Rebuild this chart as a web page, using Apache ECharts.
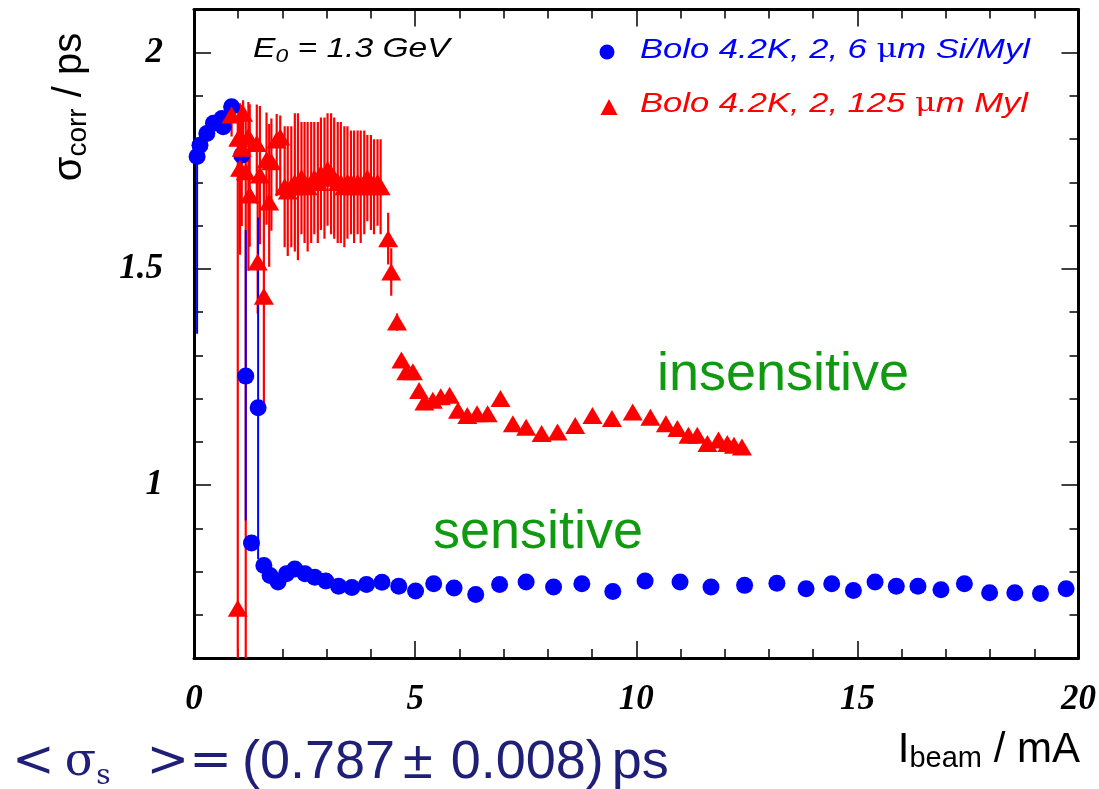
<!DOCTYPE html>
<html><head><meta charset="utf-8">
<script src="https://cdn.jsdelivr.net/npm/echarts@6/dist/echarts.min.js"></script>
<style>html,body{margin:0;padding:0;background:#fff}#c{width:1099px;height:789px}</style>
</head><body><div id="c"></div>
<script>
// ---------------- data ----------------
const xTickValues = [0, 5, 10, 15, 20];
const yTickValues = [1, 1.5, 2];

const blueName = 'Bolo 4.2K, 2, 6 μm Si/Myl';
const redName = 'Bolo 4.2K, 2, 125 μm Myl';

const blueX = [0.07, 0.135, 0.29, 0.44, 0.63, 0.66, 0.85, 1.08, 1.17, 1.30, 1.45, 1.58, 1.72, 1.90, 2.09, 2.28, 2.51, 2.73, 2.98, 3.27, 3.57, 3.90, 4.25, 4.63, 5.01, 5.42, 5.88, 6.37, 6.91, 7.51, 8.13, 8.77, 9.47, 10.20, 10.99, 11.69, 12.45, 13.18, 13.84, 14.42, 14.91, 15.40, 15.88, 16.37, 16.89, 17.42, 17.99, 18.56, 19.14, 19.72];
const blueY = [1.76, 1.786, 1.813, 1.837, 1.848, 1.829, 1.875, 1.763, 1.252, 0.866, 1.179, 0.814, 0.791, 0.776, 0.795, 0.806, 0.795, 0.787, 0.778, 0.766, 0.763, 0.770, 0.775, 0.766, 0.755, 0.772, 0.762, 0.747, 0.770, 0.776, 0.764, 0.772, 0.754, 0.778, 0.776, 0.764, 0.768, 0.773, 0.760, 0.772, 0.756, 0.776, 0.766, 0.766, 0.758, 0.772, 0.751, 0.751, 0.749, 0.760];
const blueErrDown = [0.41, 0, 0, 0, 0, 0, 0, 0, 0.334, 0, 0.35, 0, 0, 0, 0, 0, 0, 0, 0, 0, 0, 0, 0, 0, 0, 0, 0, 0, 0, 0, 0, 0, 0, 0, 0, 0, 0, 0, 0, 0, 0, 0, 0, 0, 0, 0, 0, 0, 0, 0];
const blueErrUp   = [0.04, 0, 0, 0, 0, 0, 0, 0, 0.338, 0, 0.44, 0, 0, 0, 0, 0, 0, 0, 0, 0, 0, 0, 0, 0, 0, 0, 0, 0, 0, 0, 0, 0, 0, 0, 0, 0, 0, 0, 0, 0, 0, 0, 0, 0, 0, 0, 0, 0, 0, 0];

const redX = [0.85, 0.99, 1.00, 1.04, 1.08, 1.11, 1.17, 1.23, 1.26, 1.42, 1.44, 1.49, 1.58, 1.64, 1.70, 1.75, 1.87, 1.95,
  2.05, 2.12, 2.20, 2.28, 2.35, 2.43, 2.50, 2.57, 2.65, 2.72, 2.80, 2.87, 2.95, 3.02, 3.10, 3.17, 3.25, 3.32, 3.40, 3.47, 3.55, 3.62, 3.70, 3.77, 3.85, 3.92, 4.00, 4.07, 4.15, 4.22,
  4.39, 4.46, 4.59, 4.69, 4.80, 4.95, 5.09, 5.21, 5.40, 5.58, 5.78, 5.97, 6.18, 6.40, 6.64, 6.93, 7.21, 7.51, 7.86, 8.22, 8.62, 9.01, 9.45, 9.92, 10.32, 10.67, 10.93, 11.18, 11.38, 11.61, 11.86, 12.06, 12.21, 12.39];
const redY = [1.856, 0.715, 1.802, 1.733, 1.779, 1.860, 1.725, 1.806, 1.671, 1.790, 1.516, 1.717, 1.437, 1.752, 1.655, 1.748, 1.798, 1.805,
  1.69, 1.68, 1.69, 1.70, 1.69, 1.71, 1.70, 1.69, 1.70, 1.71, 1.70, 1.72, 1.71, 1.73, 1.72, 1.71, 1.70, 1.70, 1.69, 1.70, 1.70, 1.69, 1.70, 1.69, 1.70, 1.71, 1.70, 1.69, 1.70, 1.69,
  1.570, 1.493, 1.377, 1.289, 1.262, 1.262, 1.219, 1.192, 1.196, 1.204, 1.208, 1.173, 1.161, 1.165, 1.165, 1.200, 1.142, 1.134, 1.119, 1.123, 1.138, 1.161, 1.154, 1.169, 1.157, 1.142, 1.131, 1.115, 1.115, 1.096, 1.104, 1.096, 1.092, 1.088];
const redErrDown = [0.05, 0.45, 0.10, 0.20, 0.18, 0.10, 1.25, 0.31, 0.12, 0.14, 0.12, 0.16, 0.25, 0.15, 0.15, 0.16, 0.13, 0.12,
  0.14, 0.15, 0.14, 0.16, 0.17, 0.13, 0.14, 0.15, 0.14, 0.13, 0.14, 0.13, 0.14, 0.13, 0.14, 0.14, 0.14, 0.14, 0.14, 0.13, 0.12, 0.13, 0.12, 0.13, 0.12, 0.10, 0.11, 0.11, 0.10, 0.11,
  0.06, 0.055, 0.02, 0, 0, 0, 0, 0, 0, 0, 0, 0, 0, 0, 0, 0, 0, 0, 0, 0, 0, 0, 0, 0, 0, 0, 0, 0, 0, 0, 0, 0, 0, 0];
const redErrUp = [0.02, 1.14, 0.07, 0.15, 0.10, 0.03, 0.13, 0.08, 0.21, 0.09, 0.20, 0.16, 0.27, 0.11, 0.18, 0.10, 0.06, 0.05,
  0.14, 0.15, 0.14, 0.16, 0.17, 0.13, 0.14, 0.15, 0.14, 0.13, 0.14, 0.13, 0.14, 0.13, 0.14, 0.14, 0.14, 0.14, 0.14, 0.13, 0.12, 0.13, 0.12, 0.13, 0.12, 0.10, 0.11, 0.11, 0.10, 0.11,
  0.06, 0.055, 0.02, 0, 0, 0, 0, 0, 0, 0, 0, 0, 0, 0, 0, 0, 0, 0, 0, 0, 0, 0, 0, 0, 0, 0, 0, 0, 0, 0, 0, 0, 0, 0];

// ---------------- chart ----------------
const BLUE = '#0000ff', RED = '#ff0000', GREEN = '#0f9a0f', NAVY = '#1f1f78';
const X_MIN = 0, X_MAX = 20, Y_MIN = 0.6, Y_MAX = 2.1;

function errBars(xs, ys, dn, up, color, width, z) {
  const data = [];
  xs.forEach((x, i) => { if (dn[i] > 0 || up[i] > 0) data.push([x, ys[i] - dn[i], ys[i] + up[i]]); });
  return {
    type: 'custom', clip: true, silent: true, z: z, data: data,
    encode: { x: 0, y: [1, 2] },
    renderItem: function (params, api) {
      const x = api.value(0);
      const lo = Math.max(Y_MIN, api.value(1));
      const hi = Math.min(Y_MAX, api.value(2));
      const p1 = api.coord([x, lo]);
      const p2 = api.coord([x, hi]);
      return { type: 'line', shape: { x1: p1[0], y1: p1[1], x2: p2[0], y2: p2[1] },
               style: { stroke: color, lineWidth: width } };
    }
  };
}

const labelFont = { fontFamily: 'Liberation Serif', fontWeight: 'bold', fontStyle: 'italic', fontSize: 35, color: '#000' };
const tickStyle = { color: '#000', width: 1.5 };

function xAx(pos, interval, len, showLine, showLabel) {
  return {
    type: 'value', min: X_MIN, max: X_MAX, interval: interval, position: pos,
    axisLine: { show: showLine, onZero: false, lineStyle: { color: '#000', width: 3 } },
    axisTick: { show: true, inside: true, length: len, lineStyle: tickStyle },
    axisLabel: showLabel ? Object.assign({ show: true, margin: 24, customValues: xTickValues }, labelFont) : { show: false },
    splitLine: { show: false }
  };
}
function yAx(pos, major, showLine, showLabel) {
  const ax = {
    type: 'value', min: Y_MIN, max: Y_MAX, position: pos,
    axisLine: { show: showLine, onZero: false, lineStyle: { color: '#000', width: 3 } },
    axisLabel: showLabel ? Object.assign({ show: true, margin: 31, customValues: yTickValues }, labelFont) : { show: false },
    splitLine: { show: false }
  };
  if (major) {
    ax.axisTick = { show: true, inside: true, length: 17, lineStyle: tickStyle, customValues: yTickValues };
  } else {
    ax.interval = 0.1;
    ax.axisTick = { show: true, inside: true, length: 9, lineStyle: tickStyle };
  }
  return ax;
}

const option = {
  backgroundColor: '#fff',
  animation: false,
  grid: { left: 194, right: 19, top: 9.5, bottom: 131 },
  xAxis: [
    xAx('bottom', 5, 17, true, true),
    xAx('bottom', 1, 9, false, false),
    xAx('top', 5, 17, true, false),
    xAx('top', 1, 9, false, false)
  ],
  yAxis: [
    yAx('left', true, true, true),
    yAx('left', false, false, false),
    yAx('right', true, true, false),
    yAx('right', false, false, false)
  ],
  series: [
    errBars(redX, redY, redErrDown, redErrUp, RED, 2.2, 1),
    errBars(blueX, blueY, blueErrDown, blueErrUp, BLUE, 2, 2),
    {
      name: blueName, type: 'scatter', z: 3, symbol: 'circle', symbolSize: 17,
      itemStyle: { color: BLUE, opacity: 1 },
      data: blueX.map((x, i) => [x, blueY[i]])
    },
    {
      name: redName, type: 'scatter', z: 4, symbol: 'triangle', symbolSize: [20, 17],
      itemStyle: { color: RED, opacity: 1 },
      data: redX.map((x, i) => [x, redY[i]])
    }
  ],
  graphic: [
    // E0 annotation
    { type: 'text', x: 253, y: 49, scaleX: 1.2, style: {
        text: '{i|E}{s|0}{i| = 1.3 GeV}', verticalAlign: 'middle',
        rich: { i: { fontFamily: 'Liberation Sans', fontStyle: 'italic', fontSize: 28, fill: '#000', lineHeight: 34, verticalAlign: 'middle' },
                s: { fontFamily: 'Liberation Sans', fontStyle: 'italic', fontSize: 19, fill: '#000', lineHeight: 19, verticalAlign: 'bottom' } } } },
    // legend
    { type: 'circle', shape: { cx: 607, cy: 52, r: 7.5 }, style: { fill: BLUE } },
    { type: 'polygon', shape: { points: [[609, 99], [600.5, 115], [617.5, 115]] }, style: { fill: RED } },
    { type: 'text', x: 640, y: 50, scaleX: 1.235, style: {
        text: '{i|Bolo 4.2K, 2, 6 }{u|μ}{i|m Si/Myl}', verticalAlign: 'middle',
        rich: { i: { fontFamily: 'Liberation Sans', fontStyle: 'italic', fontSize: 28, fill: BLUE },
                u: { fontFamily: 'DejaVu Serif', fontSize: 26, fill: BLUE } } } },
    { type: 'text', x: 640, y: 104, scaleX: 1.235, style: {
        text: '{i|Bolo 4.2K, 2, 125 }{u|μ}{i|m Myl}', verticalAlign: 'middle',
        rich: { i: { fontFamily: 'Liberation Sans', fontStyle: 'italic', fontSize: 28, fill: RED },
                u: { fontFamily: 'DejaVu Serif', fontSize: 26, fill: RED } } } },
    // green notes
    { type: 'text', x: 657, y: 375, style: { text: 'insensitive', fontFamily: 'Liberation Sans', fontSize: 54, fill: GREEN, verticalAlign: 'middle' } },
    { type: 'text', x: 433, y: 533, style: { text: 'sensitive', fontFamily: 'Liberation Sans', fontSize: 54, fill: GREEN, verticalAlign: 'middle' } },
    // y axis title
    { type: 'text', x: 92, y: 107, rotation: Math.PI / 2, style: {
        text: '{n|σ}{s|corr}{n| / ps}', align: 'center', verticalAlign: 'bottom',
        rich: { n: { fontFamily: 'Liberation Sans', fontSize: 40, fill: '#000', lineHeight: 44, verticalAlign: 'middle' },
                s: { fontFamily: 'Liberation Sans', fontSize: 28, fill: '#000', lineHeight: 28, verticalAlign: 'bottom' } } } },
    // x axis title
    { type: 'text', x: 1080, y: 750, style: {
        text: '{n|I}{s|beam}{n| / mA}', align: 'right', verticalAlign: 'middle',
        rich: { n: { fontFamily: 'Liberation Sans', fontSize: 42, fill: '#000', lineHeight: 46, verticalAlign: 'middle' },
                s: { fontFamily: 'Liberation Sans', fontSize: 29, fill: '#000', lineHeight: 29, verticalAlign: 'bottom' } } } },
    // mean value formula
    { type: 'text', x: 12, y: 763, style: {
        text: '{m|<}{w1| }{g|σ}{sub|s}{w2| }{m|>=}{w3| }{p|(}{n|0.787}{w4| }{n|±}{w5| }{n|0.008}{p|)}{w6| }{n|ps}', verticalAlign: 'middle',
        rich: { m: { fontFamily: 'DejaVu Serif', fontSize: 51, fill: NAVY, lineHeight: 56, verticalAlign: 'middle' },
                g: { fontFamily: 'DejaVu Serif', fontSize: 46, fill: NAVY, lineHeight: 56, verticalAlign: 'middle' },
                sub: { fontFamily: 'DejaVu Serif', fontSize: 28, fill: NAVY, lineHeight: 28, verticalAlign: 'bottom' },
                p: { fontFamily: 'Liberation Sans', fontSize: 54, fill: NAVY, lineHeight: 56, verticalAlign: 'middle' },
                n: { fontFamily: 'Liberation Sans', fontSize: 54, fill: NAVY, lineHeight: 56, verticalAlign: 'middle' },
                w1: { width: 10, fontSize: 20 }, w2: { width: 36, fontSize: 20 }, w3: { width: 10, fontSize: 20 },
                w4: { width: 8, fontSize: 20 }, w5: { width: 18, fontSize: 20 }, w6: { width: 8, fontSize: 20 } } } }
  ]
};

const chart = echarts.init(document.getElementById('c'));
chart.setOption(option);
</script>
</body></html>
